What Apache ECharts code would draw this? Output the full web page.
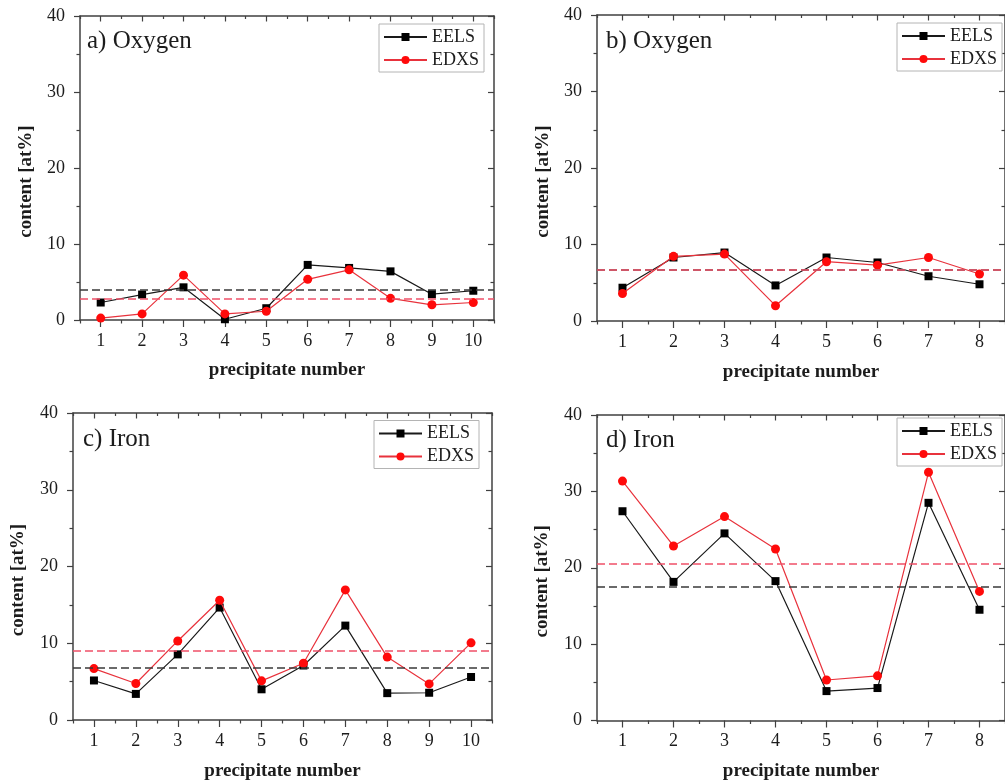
<!DOCTYPE html>
<html>
<head>
<meta charset="utf-8">
<title>Precipitate composition</title>
<script src="https://cdn.jsdelivr.net/npm/echarts@6/dist/echarts.min.js"></script>
<style>
  html, body { margin: 0; padding: 0; background: #ffffff; }
  #chart { width: 1005px; height: 782px; }
</style>
</head>
<body>
<div id="chart"></div>
<script>
// Precipitate numbers for the two sample sets
const precipitatesTen = [1, 2, 3, 4, 5, 6, 7, 8, 9, 10];
const precipitatesEight = [1, 2, 3, 4, 5, 6, 7, 8];

// Y-axis tick labels (content in at%)
const contentTicks = [0, 10, 20, 30, 40];

// a) Oxygen
const oxygenA_EELS = [2.3, 3.35, 4.3, 0.1, 1.55, 7.25, 6.85, 6.4, 3.4, 3.85];
const oxygenA_EDXS = [0.25, 0.8, 5.9, 0.8, 1.15, 5.35, 6.6, 2.85, 2.0, 2.3];
const oxygenA_mean = { EELS: 3.95, EDXS: 2.85 };

// b) Oxygen
const oxygenB_EELS = [4.35, 8.3, 8.95, 4.65, 8.3, 7.65, 5.85, 4.8];
const oxygenB_EDXS = [3.6, 8.45, 8.75, 2.0, 7.75, 7.3, 8.3, 6.15];
const oxygenB_mean = { EELS: 6.65, EDXS: 6.7 };

// c) Iron
const ironC_EELS = [5.15, 3.4, 8.55, 14.65, 4.0, 7.1, 12.3, 3.5, 3.55, 5.6];
const ironC_EDXS = [6.7, 4.75, 10.3, 15.6, 5.1, 7.4, 16.95, 8.2, 4.7, 10.05];
const ironC_mean = { EELS: 6.85, EDXS: 9.0 };

// d) Iron
const ironD_EELS = [27.4, 18.15, 24.5, 18.25, 3.85, 4.25, 28.5, 14.5];
const ironD_EDXS = [31.35, 22.85, 26.7, 22.45, 5.3, 5.85, 32.5, 16.9];
const ironD_mean = { EELS: 17.45, EDXS: 20.5 };

const FONT = '"Liberation Serif", "Times New Roman", Times, serif';
const INK = '#1c1c1c';
const AXIS = '#404040';
const EELS_COLOR = '#000000';
const EELS_LINE = '#1a1a1a';
const EDXS_COLOR = '#ff0a0a';
const EDXS_LINE = '#e8323c';
const EELS_MEAN_COLOR = '#3a3a3a';
const EDXS_MEAN_COLOR = '#f05068';

const panels = [
  { title: 'a) Oxygen', x: precipitatesTen, eels: oxygenA_EELS, edxs: oxygenA_EDXS, mean: oxygenA_mean },
  { title: 'b) Oxygen', x: precipitatesEight, eels: oxygenB_EELS, edxs: oxygenB_EDXS, mean: oxygenB_mean },
  { title: 'c) Iron', x: precipitatesTen, eels: ironC_EELS, edxs: ironC_EDXS, mean: ironC_mean },
  { title: 'd) Iron', x: precipitatesEight, eels: ironD_EELS, edxs: ironD_EDXS, mean: ironD_mean }
];

// Panel placement on the page
const layout = [
  { grid: { left: 80, top: 16, width: 414, height: 304 }, titlePos: [87, 29], legendPos: [379, 24], xNameGap: 41, yNameGap: 44.5 },
  { grid: { left: 597, top: 15, width: 416, height: 306 }, titlePos: [606, 28.5], legendPos: [897, 23], xNameGap: 41.5, yNameGap: 44 },
  { grid: { left: 73, top: 413, width: 419, height: 307 }, titlePos: [83, 427], legendPos: [374, 420.5], xNameGap: 42, yNameGap: 45 },
  { grid: { left: 597, top: 415, width: 416, height: 307 }, titlePos: [606, 428], legendPos: [897, 418], xNameGap: 41.5, yNameGap: 45.5 }
];

const tickLine = { color: AXIS, width: 1.2 };
const axisLine = { show: true, onZero: false, lineStyle: { color: AXIS, width: 1.5 } };

const grid = [], xAxis = [], yAxis = [], series = [], title = [], legend = [];

panels.forEach((p, i) => {
  const L = layout[i];
  grid.push(Object.assign({ containLabel: false }, L.grid));

  // Scale ticks fall between precipitates; integer positions use the minor ticks
  const xBase = {
    gridIndex: i, type: 'value', min: 0.5, max: p.x.length + 0.5, interval: 1,
    splitLine: { show: false }, axisLine: axisLine
  };
  xAxis.push(Object.assign({}, xBase, {
    position: 'bottom',
    axisTick: { show: true, length: 3.5, lineStyle: tickLine },
    minorTick: { show: true, splitNumber: 2, length: 7, lineStyle: tickLine },
    axisLabel: { customValues: p.x, margin: 12, fontFamily: FONT, fontSize: 18, color: INK },
    name: 'precipitate number', nameLocation: 'middle', nameGap: L.xNameGap,
    nameTextStyle: { fontFamily: FONT, fontSize: 19, fontWeight: 'bold', color: INK }
  }));
  xAxis.push(Object.assign({}, xBase, {
    position: 'top',
    axisTick: { show: true, inside: true, length: 3, lineStyle: tickLine },
    minorTick: { show: true, splitNumber: 2, length: 5.5, lineStyle: tickLine },
    axisLabel: { show: false }
  }));

  const yBase = {
    gridIndex: i, type: 'value', min: contentTicks[0], max: contentTicks[contentTicks.length - 1],
    interval: contentTicks[1] - contentTicks[0],
    splitLine: { show: false }, axisLine: axisLine
  };
  yAxis.push(Object.assign({}, yBase, {
    position: 'left',
    axisTick: { show: true, length: 6, lineStyle: tickLine },
    minorTick: { show: true, splitNumber: 2, length: 3.5, lineStyle: tickLine },
    axisLabel: { margin: 15, fontFamily: FONT, fontSize: 18, color: INK },
    name: 'content [at%]', nameLocation: 'middle', nameGap: L.yNameGap,
    nameTextStyle: { fontFamily: FONT, fontSize: 19, fontWeight: 'bold', color: INK, padding: [0, 27, 0, 0] }
  }));
  yAxis.push(Object.assign({}, yBase, {
    position: 'right',
    axisTick: { show: true, inside: true, length: 6, lineStyle: tickLine },
    minorTick: { show: true, splitNumber: 2, length: 3.5, lineStyle: tickLine },
    axisLabel: { show: false }
  }));

  const meanLine = (value, color) => ({
    silent: true, symbol: ['none', 'none'], label: { show: false }, animation: false,
    lineStyle: { color: color, type: [8, 4], width: 1.5 },
    data: [{ yAxis: value }]
  });

  series.push({
    name: 'EELS', type: 'line', xAxisIndex: 2 * i, yAxisIndex: 2 * i,
    data: p.x.map((n, k) => [n, p.eels[k]]),
    symbol: 'rect', symbolSize: 8,
    itemStyle: { color: EELS_COLOR },
    lineStyle: { color: EELS_LINE, width: 1.2 },
    markLine: meanLine(p.mean.EELS, EELS_MEAN_COLOR),
    z: 3
  });
  series.push({
    name: 'EDXS', type: 'line', xAxisIndex: 2 * i, yAxisIndex: 2 * i,
    data: p.x.map((n, k) => [n, p.edxs[k]]),
    symbol: 'circle', symbolSize: 9,
    itemStyle: { color: EDXS_COLOR },
    lineStyle: { color: EDXS_LINE, width: 1.2 },
    markLine: meanLine(p.mean.EDXS, EDXS_MEAN_COLOR),
    z: 4
  });

  title.push({
    text: p.title, left: L.titlePos[0], top: L.titlePos[1], padding: 0,
    textStyle: { fontFamily: FONT, fontSize: 25, fontWeight: 'normal', color: INK }
  });

  legend.push({
    data: ['EELS', 'EDXS'], orient: 'vertical',
    left: L.legendPos[0], top: L.legendPos[1],
    padding: [4, 5, 3, 4], itemGap: 5, itemWidth: 43, itemHeight: 10,
    borderColor: '#b4b4b4', borderWidth: 1, backgroundColor: '#ffffff',
    selectedMode: false,
    textStyle: { fontFamily: FONT, fontSize: 18, color: INK }
  });
});

const chart = echarts.init(document.getElementById('chart'), null, { renderer: 'canvas' });
chart.setOption({
  animation: false,
  backgroundColor: '#ffffff',
  title: title,
  legend: legend,
  grid: grid,
  xAxis: xAxis,
  yAxis: yAxis,
  series: series
});
</script>
</body>
</html>
